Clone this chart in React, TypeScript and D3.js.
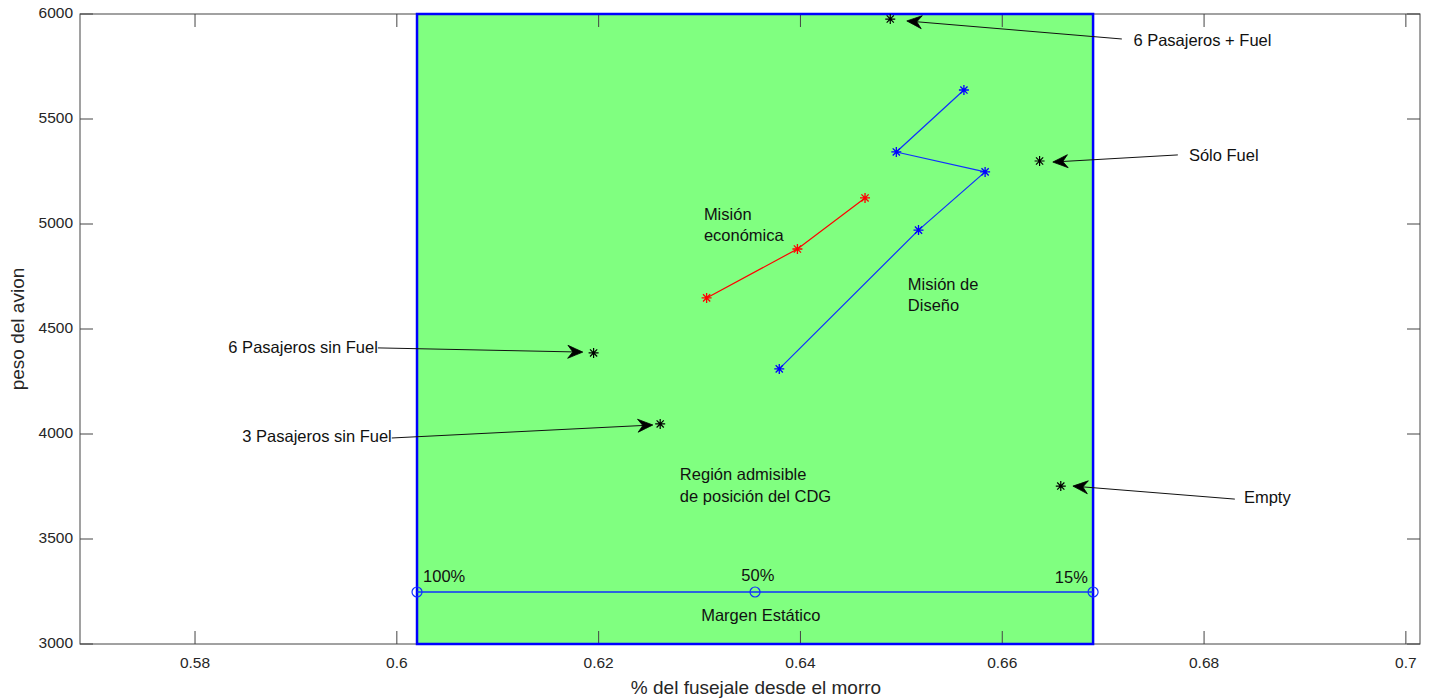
import React from "react";
import * as d3 from "d3";

const W = 1431;
const H = 698;

const xTicks = [0.58, 0.6, 0.62, 0.64, 0.66, 0.68, 0.7];
const yTicks = [3000, 3500, 4000, 4500, 5000, 5500, 6000];
const xTickLabels = ["0.58", "0.6", "0.62", "0.64", "0.66", "0.68", "0.7"];

const regionX = [0.602, 0.669];
const regionY = [3000, 6000];

const economicX = [0.6307, 0.6397, 0.6464];
const economicY = [4648, 4881, 5124];

const designX = [0.6379, 0.6517, 0.6583, 0.6495, 0.6562];
const designY = [4310, 4971, 5248, 5343, 5638];

const marginX = [0.602, 0.6355, 0.669];
const marginY = 3250;
const marginLabels = ["100%", "50%", "15%"];

const caseLabels = ["6 Pasajeros + Fuel", "Sólo Fuel", "6 Pasajeros sin Fuel", "3 Pasajeros sin Fuel", "Empty"];
const caseX = [0.6489, 0.6637, 0.6195, 0.6261, 0.6658];
const caseY = [5976, 5300, 4386, 4048, 3752];
const arrowTailX = [0.67185, 0.6774, 0.59812, 0.5995, 0.68305];
const arrowTailY = [5881, 5329, 4410, 3981, 3690];
const arrowTipX = [0.65054, 0.66501, 0.61843, 0.62537, 0.667];
const arrowTipY = [5967, 5295, 4390, 4043, 3752];
const caseTextX = [0.6726, 0.6781, 0.59812, 0.5995, 0.68355];
const caseTextY = [5867, 5319, 4405, 3981, 3690];
const caseAnchor = ["start", "start", "end", "end", "start"];

const m = { left: 80, right: 1420, top: 14, bottom: 644 };

const FONT = "'Liberation Sans', Arial, Helvetica, sans-serif";
const FS = 16.5;

function asterisk(cx: number, cy: number, r: number) {
  const d = r * 0.72;
  return `M${cx - r},${cy}L${cx + r},${cy}M${cx},${cy - r}L${cx},${cy + r}M${cx - d},${cy - d}L${cx + d},${cy + d}M${cx - d},${cy + d}L${cx + d},${cy - d}`;
}

function arrowHead(tx: number, ty: number, fx: number, fy: number) {
  const ang = Math.atan2(fy - ty, fx - tx);
  const L = 15, Wd = 6.5, N = 10;
  const ux = Math.cos(ang), uy = Math.sin(ang);
  const px = -uy, py = ux;
  const p1 = [tx + ux * L + px * Wd, ty + uy * L + py * Wd];
  const p2 = [tx + ux * N, ty + uy * N];
  const p3 = [tx + ux * L - px * Wd, ty + uy * L - py * Wd];
  return `M${tx},${ty}Q${tx + ux * 7 + px * 3},${ty + uy * 7 + py * 3} ${p1[0]},${p1[1]}L${p2[0]},${p2[1]}L${p3[0]},${p3[1]}Q${tx + ux * 7 - px * 3},${ty + uy * 7 - py * 3} ${tx},${ty}Z`;
}

export default function App() {
  const x = d3.scaleLinear().domain([0.5686, 0.7014]).range([m.left, m.right]);
  const y = d3.scaleLinear().domain([3000, 6000]).range([m.bottom, m.top]);
  const line = d3.line<[number, number]>().x((d) => x(d[0])).y((d) => y(d[1]));
  const econ = economicX.map((v, i) => [v, economicY[i]] as [number, number]);
  const design = designX.map((v, i) => [v, designY[i]] as [number, number]);
  const tick = 13;
  const axisColor = "#444";
  const textColor = "#262626";
  const blue = "#1030ff";

  return (
    <svg width={W} height={H} style={{ position: "absolute", left: 0, top: 0, background: "#fff" }} fontFamily={FONT}>
      <defs>
        <clipPath id="plot">
          <rect x={m.left} y={m.top} width={m.right - m.left} height={m.bottom - m.top} />
        </clipPath>
      </defs>
      <rect
        x={x(regionX[0])}
        y={y(regionY[1])}
        width={x(regionX[1]) - x(regionX[0])}
        height={y(regionY[0]) - y(regionY[1])}
        fill="#80ff80"
      />
      <rect x={m.left} y={m.top} width={m.right - m.left} height={m.bottom - m.top} fill="none" stroke={axisColor} strokeWidth={1} />
      {xTicks.map((t, i) => (
        <g key={"xt" + i}>
          <line x1={x(t)} x2={x(t)} y1={m.bottom} y2={m.bottom - tick} stroke={axisColor} />
          <line x1={x(t)} x2={x(t)} y1={m.top} y2={m.top + tick} stroke={axisColor} />
          <text x={x(t)} y={m.bottom + 20} textAnchor="middle" dominantBaseline="middle" fontSize={15.5} fill={textColor}>
            {xTickLabels[i]}
          </text>
        </g>
      ))}
      {yTicks.map((t, i) => (
        <g key={"yt" + i}>
          <line x1={m.left} x2={m.left + tick} y1={y(t)} y2={y(t)} stroke={axisColor} />
          <line x1={m.right} x2={m.right - tick} y1={y(t)} y2={y(t)} stroke={axisColor} />
          <text x={m.left - 7} y={y(t)} textAnchor="end" dominantBaseline="middle" fontSize={15.5} fill={textColor}>
            {t}
          </text>
        </g>
      ))}
      <text x={756} y={689} textAnchor="middle" dominantBaseline="middle" fontSize={19} fill={textColor}>
        % del fusejale desde el morro
      </text>
      <text
        transform={`translate(19,${(m.top + m.bottom) / 2}) rotate(-90)`}
        textAnchor="middle"
        dominantBaseline="middle"
        fontSize={19}
        fill={textColor}
      >
        peso del avion
      </text>
      <rect
        x={x(regionX[0])}
        y={y(regionY[1])}
        width={x(regionX[1]) - x(regionX[0])}
        height={y(regionY[0]) - y(regionY[1])}
        fill="none"
        stroke="#0000ff"
        strokeWidth={2.5}
      />
      <g clipPath="url(#plot)">
        <path d={line(econ) || ""} fill="none" stroke="#ff0000" strokeWidth={1.2} />
        {econ.map((p, i) => (
          <path key={"e" + i} d={asterisk(x(p[0]), y(p[1]), 5)} stroke="#ff0000" strokeWidth={1.3} fill="none" />
        ))}
        <path d={line(design) || ""} fill="none" stroke={blue} strokeWidth={1.2} />
        {design.map((p, i) => (
          <path key={"d" + i} d={asterisk(x(p[0]), y(p[1]), 5)} stroke="#0000ff" strokeWidth={1.3} fill="none" />
        ))}
        <line x1={x(marginX[0])} x2={x(marginX[2])} y1={y(marginY) + 0.5} y2={y(marginY) + 0.5} stroke={blue} strokeWidth={1.4} />
        {marginX.map((v, i) => (
          <circle key={"m" + i} cx={x(v)} cy={y(marginY) + 0.5} r={5} fill="none" stroke={blue} strokeWidth={1.2} />
        ))}
        {caseX.map((v, i) => (
          <path key={"c" + i} d={asterisk(x(v), y(caseY[i]), 5)} stroke="#000" strokeWidth={1.2} fill="none" />
        ))}
      </g>
      <text x={x(0.6026)} y={y(3314)} dominantBaseline="middle" fontSize={FS} fill="#111">{marginLabels[0]}</text>
      <text x={x(0.63578)} y={y(3319)} textAnchor="middle" dominantBaseline="middle" fontSize={FS} fill="#111">{marginLabels[1]}</text>
      <text x={x(0.66848)} y={y(3310)} textAnchor="end" dominantBaseline="middle" fontSize={FS} fill="#111">{marginLabels[2]}</text>
      <text x={x(0.63607)} y={y(3129)} textAnchor="middle" dominantBaseline="middle" fontSize={FS} fill="#111">Margen Estático</text>
      <text x={x(0.62805)} y={y(3800)} dominantBaseline="middle" fontSize={FS} fill="#111">Región admisible</text>
      <text x={x(0.62805)} y={y(3695)} dominantBaseline="middle" fontSize={FS} fill="#111">de posición del CDG</text>
      <text x={x(0.63043)} y={y(5038)} dominantBaseline="middle" fontSize={FS} fill="#111">Misión</text>
      <text x={x(0.63043)} y={y(4938)} dominantBaseline="middle" fontSize={FS} fill="#111">económica</text>
      <text x={x(0.65064)} y={y(4705)} dominantBaseline="middle" fontSize={FS} fill="#111">Misión de</text>
      <text x={x(0.65064)} y={y(4605)} dominantBaseline="middle" fontSize={FS} fill="#111">Diseño</text>
      {caseLabels.map((lab, i) => {
        const tx = x(arrowTipX[i]);
        const ty = y(arrowTipY[i]);
        const fx = x(arrowTailX[i]);
        const fy = y(arrowTailY[i]);
        return (
          <g key={"a" + i}>
            <line x1={fx} y1={fy} x2={tx + (fx - tx) * 0.03} y2={ty + (fy - ty) * 0.03} stroke="#111" strokeWidth={1} />
            <path d={arrowHead(tx, ty, fx, fy)} fill="#000" stroke="#000" strokeWidth={0.8} />
            <text
              x={x(caseTextX[i]) + (caseAnchor[i] === "start" ? 4 : 0)}
              y={y(caseTextY[i])}
              textAnchor={caseAnchor[i] as any}
              dominantBaseline="middle"
              fontSize={FS}
              fill="#111"
            >
              {lab}
            </text>
          </g>
        );
      })}
    </svg>
  );
}
